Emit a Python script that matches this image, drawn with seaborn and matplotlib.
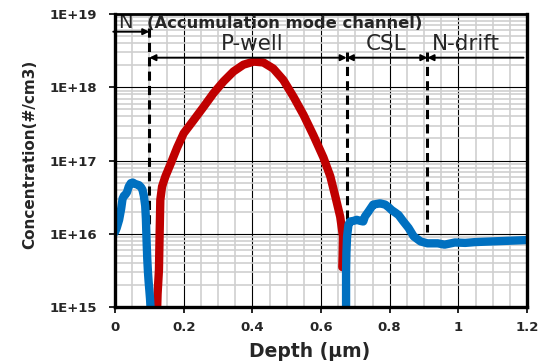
import numpy as np
import pandas as pd
import matplotlib
matplotlib.use("Agg")
import matplotlib.pyplot as plt
import matplotlib.ticker as mticker
import seaborn as sns

# Net donor (n-type) concentration, shallow N layer near the surface
n_surface_depth = [0.000, 0.005, 0.012, 0.018, 0.022, 0.026, 0.030, 0.035, 0.040,
                   0.046, 0.052, 0.058, 0.064, 0.070, 0.076, 0.080, 0.084, 0.088,
                   0.090, 0.092, 0.094, 0.096, 0.098, 0.100, 0.102, 0.104, 0.106]
n_surface_conc = [1.05e16, 1.2e16, 1.55e16, 2.2e16, 3.0e16, 3.3e16, 3.4e16, 3.7e16, 4.4e16,
                  4.9e16, 5.0e16, 4.8e16, 4.7e16, 4.6e16, 4.3e16, 4.0e16, 3.3e16, 2.4e16,
                  1.6e16, 8.0e15, 4.5e15, 3.0e15, 2.2e15, 1.7e15, 1.3e15, 9.0e14, 5.0e14]

# Net donor concentration in the CSL and N-drift regions
n_drift_depth = [0.673, 0.673, 0.674, 0.676, 0.680, 0.685, 0.695, 0.704, 0.714, 0.723,
                 0.728, 0.738, 0.752, 0.762, 0.772, 0.787, 0.797, 0.806, 0.816, 0.826,
                 0.840, 0.855, 0.870, 0.890, 0.910, 0.940, 0.960, 0.990, 1.020,
                 1.050, 1.080, 1.110, 1.140, 1.170, 1.200]
n_drift_conc = [5.0e14, 3.0e15, 5.5e15, 9.2e15, 1.33e16, 1.47e16, 1.5e16, 1.55e16, 1.5e16, 1.47e16,
                1.72e16, 2.0e16, 2.5e16, 2.55e16, 2.6e16, 2.5e16, 2.3e16, 2.1e16, 1.95e16, 1.8e16,
                1.47e16, 1.2e16, 9.2e15, 7.85e15, 7.4e15, 7.4e15, 7.1e15, 7.6e15, 7.5e15,
                7.7e15, 7.8e15, 7.9e15, 8.0e15, 8.1e15, 8.2e15]

# Net acceptor (p-type) concentration of the P-well
p_well_depth = [0.121, 0.124, 0.128, 0.130, 0.132, 0.137, 0.147, 0.162, 0.181, 0.200,
                0.229, 0.258, 0.287, 0.316, 0.345, 0.374, 0.404, 0.432, 0.461, 0.490,
                0.520, 0.549, 0.578, 0.607, 0.627, 0.642, 0.656, 0.664, 0.663, 0.662]
p_well_conc = [5.0e14, 1.5e15, 3.2e15, 1.0e16, 2.9e16, 4.4e16, 6.1e16, 9.0e16, 1.5e17, 2.35e17,
               3.55e17, 5.4e17, 8.3e17, 1.2e18, 1.64e18, 2.03e18, 2.24e18, 2.18e18, 1.8e18, 1.26e18,
               7.4e17, 4.2e17, 2.2e17, 1.1e17, 6.1e16, 3.2e16, 1.7e16, 9.2e15, 5.0e15, 3.5e15]

# Region boundaries (depth, µm)
boundaries = [0.1, 0.675, 0.91]
x_ticks = [0, 0.2, 0.4, 0.6, 0.8, 1.0, 1.2]
x_tick_labels = ["0", "0.2", "0.4", "0.6", "0.8", "1", "1.2"]
y_ticks = [1e15, 1e16, 1e17, 1e18, 1e19]
y_tick_labels = ["1E+15", "1E+16", "1E+17", "1E+18", "1E+19"]

sns.set_theme(style="white")
plt.rcParams["font.family"] = ["DejaVu Sans"]

BLUE = "#0070C0"
RED = "#C00000"

fig = plt.figure(figsize=(5.48, 3.62), dpi=100)
ax = fig.add_axes([115 / 548, 1 - 307 / 362, (527 - 115) / 548, (307 - 14) / 362])
ax.set_yscale("log")

ax.set_xlim(0, 1.2)
ax.set_ylim(1e15, 1e19)

# Grid: light minor lines, thin black major lines
ax.xaxis.set_minor_locator(mticker.MultipleLocator(0.05))
ax.yaxis.set_minor_locator(mticker.LogLocator(base=10, subs=np.arange(2, 10)))
ax.yaxis.set_minor_formatter(mticker.NullFormatter())
ax.grid(which="minor", color="#cfcfcf", lw=1.2, zorder=0)
ax.grid(which="major", color="black", lw=0.8, zorder=0.5)
ax.set_axisbelow(True)

# Boundary markers
tr = ax.get_xaxis_transform()
dash_spans = [(0.952, 0.280), (0.870, 0.195), (0.870, 0.256)]
for xb, (y0, y1) in zip(boundaries, dash_spans):
    ax.plot([xb, xb], [y0, y1], transform=tr, color="black",
            lw=2.2, ls=(0, (3, 1.7)), zorder=2, clip_on=False)

df_n1 = pd.DataFrame({"depth": n_surface_depth, "conc": n_surface_conc})
df_n2 = pd.DataFrame({"depth": n_drift_depth, "conc": n_drift_conc})
df_p = pd.DataFrame({"depth": p_well_depth, "conc": p_well_conc})

sns.lineplot(data=df_p, x="depth", y="conc", sort=False, estimator=None, color=RED,
             lw=6, ax=ax, zorder=3, solid_capstyle="round", solid_joinstyle="round")
for d in (df_n1, df_n2):
    sns.lineplot(data=d, x="depth", y="conc", sort=False, estimator=None, color=BLUE,
                 lw=6, ax=ax, zorder=4, solid_capstyle="round", solid_joinstyle="round")

# Region arrows
arrow_kw = dict(color="black", lw=1.4, shrinkA=0, shrinkB=0, mutation_scale=9)
ax.annotate("", xy=(boundaries[0], 0.9396), xytext=(-0.005, 0.9396), xycoords=tr, textcoords=tr,
            arrowprops=dict(arrowstyle="-|>", **arrow_kw), annotation_clip=False)
ax.annotate("", xy=(boundaries[0], 0.8509), xytext=(boundaries[1], 0.8509), xycoords=tr,
            textcoords=tr, arrowprops=dict(arrowstyle="<|-|>", **arrow_kw))
ax.annotate("", xy=(boundaries[1], 0.8509), xytext=(boundaries[2], 0.8509), xycoords=tr,
            textcoords=tr, arrowprops=dict(arrowstyle="<|-|>", **arrow_kw))
ax.annotate("", xy=(boundaries[2], 0.8509), xytext=(1.19, 0.8509), xycoords=tr,
            textcoords=tr, arrowprops=dict(arrowstyle="-|>", **arrow_kw))

ax.text(0.010, 0.9512, "N", transform=tr, fontsize=14, va="baseline", ha="left", zorder=6)
ax.text(0.094, 0.9522, "(Accumulation mode channel)", transform=tr, fontsize=11.8,
        fontweight="bold", va="baseline", ha="left", zorder=6)
ax.text(0.307, 0.877, "P-well", transform=tr, fontsize=15.5, va="baseline", ha="left", zorder=6)
ax.text(0.729, 0.877, "CSL", transform=tr, fontsize=15.5, va="baseline", ha="left", zorder=6)
ax.text(0.923, 0.877, "N-drift", transform=tr, fontsize=15.5, va="baseline", ha="left", zorder=6)

# Axes, ticks and labels
ax.set_xticks(x_ticks)
ax.set_xticklabels(x_tick_labels)
ax.set_yticks(y_ticks)
ax.set_yticklabels(y_tick_labels)
ax.tick_params(axis="both", which="major", direction="out", length=4, width=1.2,
               color="black", labelsize=9.5, bottom=True, left=True)
ax.tick_params(axis="y", pad=9)
ax.tick_params(axis="x", pad=6)
ax.tick_params(which="minor", length=0)
for lab in ax.get_xticklabels() + ax.get_yticklabels():
    lab.set_fontweight("bold")

for side, w in (("left", 2.4), ("bottom", 2.4), ("top", 2.0), ("right", 2.4)):
    ax.spines[side].set_visible(True)
    ax.spines[side].set_color("black")
    ax.spines[side].set_linewidth(w)
    ax.spines[side].set_zorder(7)

ax.set_xlabel("Depth (μm)", fontsize=13.5, fontweight="bold")
ax.set_ylabel("Concentration(#/cm3)", fontsize=11, fontweight="bold")
ax.xaxis.set_label_coords((310 - 115) / 412, (307 - 342) / 293)
ax.yaxis.set_label_coords((37 - 115) / 412, (307 - 154) / 293)

fig.savefig("out.png", dpi=100)
